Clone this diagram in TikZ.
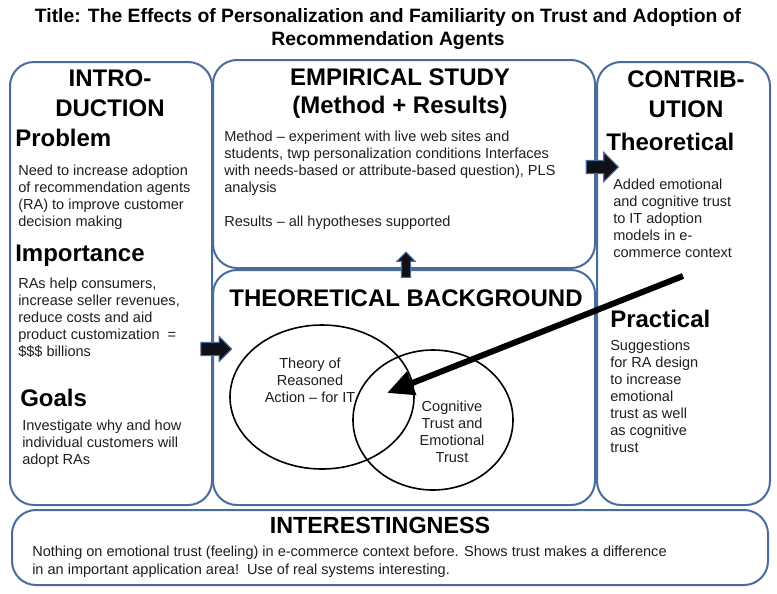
\documentclass[tikz,border=0pt]{standalone}
\usepackage{fontspec}
\setmainfont{Liberation Sans}
\usetikzlibrary{arrows.meta, positioning, shapes.geometric, shapes.arrows, fit}
\definecolor{rablue}{HTML}{4A6C9B}
\definecolor{raink}{HTML}{101018}
\definecolor{ratext}{HTML}{1E1E1E}

\begin{document}
\begin{tikzpicture}[x=0.75pt, y=-0.75pt,
  every node/.style={font=\fontsize{10.9}{12.75}\selectfont, inner sep=0pt},
  panel/.style={draw=rablue, line width=1.5pt, rounded corners=18pt, inner sep=0pt},
  heading/.style={font=\fontsize{18}{22.5}\selectfont\bfseries, align=center},
  subhead/.style={font=\fontsize{18}{22}\selectfont\bfseries, anchor=west},
  body/.style={align=left, anchor=north west, text=ratext},
  venn/.style={ellipse, draw=black, line width=1.2pt},
  blockarrow/.style={single arrow, fill=raink, draw=rablue, line width=0.8pt, inner sep=0pt},
]
\useasboundingbox (0,0) rectangle (777,593);

\node[font=\fontsize{14.5}{17.25}\selectfont\bfseries, align=center] (title) at (388,29.5)
  {Title: The Effects of Personalization and Familiarity on Trust and Adoption of\\Recommendation Agents};

\node[panel, fit={(10,62) (212,505)}] (intro) {};
\node[panel, fit={(213,60) (595,268)}] (study) {};
\node[panel, fit={(213,270) (595,505)}] (backgr) {};
\node[panel, fit={(597,62) (770,505)}] (contrib) {};
\node[panel, fit={(12,510) (768,585)}] (interest) {};

\node[heading] (introhd) at (110,93) {INTRO-\\DUCTION};
\node[subhead] (problem) at (15,138) {Problem};
\node[body] (problemtx) at (18,165) {Need to increase adoption\\of recommendation agents\\(RA) to improve customer\\decision making};
\node[subhead] (importance) at (15,256) {Importance};
\node[body] (importancetx) at (18,278) {RAs help consumers,\\increase seller revenues,\\reduce costs and aid\\product customization\ \ =\\\$\$\$ billions};
\node[subhead] (goals) at (20,398) {Goals};
\node[body] (goalstx) at (22,420) {Investigate why and how\\individual customers will\\adopt RAs};

\node[heading, font=\fontsize{18}{21}\selectfont\bfseries] (studyhd) at (400,94) {EMPIRICAL STUDY\\(Method + Results)};
\node[body] (methodtx) at (224,131) {Method – experiment with live web sites and\\students, twp personalization conditions Interfaces\\with needs-based or attribute-based question), PLS\\analysis\\[12.75pt]Results – all hypotheses supported};

\node[heading, font=\fontsize{18}{22}\selectfont\bfseries] (backgrhd) at (406,298) {THEORETICAL BACKGROUND};
\node[venn, minimum width=138pt, minimum height=108pt] (tra) at (322,397) {};
\node[venn, minimum width=120pt, minimum height=105pt] (trust) at (433,420) {};
\node[align=center, text=ratext] (tratx) at (310,380) {Theory of\\Reasoned\\Action – for IT};
\node[align=center, text=ratext] (trusttx) at (452,432) {Cognitive\\Trust and\\Emotional\\Trust};

\node[heading] (contribhd) at (686,94) {CONTRIB-\\UTION};
\node[subhead] (theoretical) at (606,142) {Theoretical};
\node[body] (theoreticaltx) at (613,179) {Added emotional\\and cognitive trust\\to IT adoption\\models in e-\\commerce context};
\node[subhead] (practical) at (610,319) {Practical};
\node[body] (practicaltx) at (610,340) {Suggestions\\for RA design\\to increase\\emotional\\trust as well\\as cognitive\\trust};

\node[heading, font=\fontsize{17.5}{21}\selectfont\bfseries] (interesthd) at (380,525) {INTERESTINGNESS};
\node[body, font=\fontsize{10.9}{13.5}\selectfont] (interesttx) at (32,546) {Nothing on emotional trust (feeling) in e-commerce context before. Shows trust makes a difference\\in an important application area!\ \ Use of real systems interesting.};

\node[blockarrow, minimum height=23pt, inner ysep=4.5pt, single arrow head extend=4.5pt] (toback) at (213,349) {};
\node[blockarrow, rotate=90, minimum height=19pt, inner ysep=3pt, single arrow head extend=3.5pt] (tostudy) at (406,267) {};
\node[blockarrow, minimum height=24pt, inner ysep=4.5pt, single arrow head extend=6pt] (tocontrib) at (599,167) {};

\coordinate (pracstart) at (683,276);
\coordinate (vennmid) at (387,393);
\draw[line width=4.5pt, -{Triangle[length=20pt, width=18pt]}] (pracstart) -- (vennmid);

\end{tikzpicture}
\end{document}
